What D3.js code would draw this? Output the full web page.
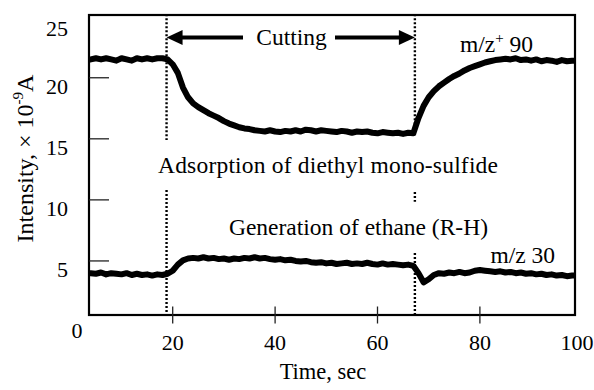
<!DOCTYPE html>
<html>
<head>
<meta charset="utf-8">
<script src="https://cdn.jsdelivr.net/npm/d3@7"></script>
<style>
  body { margin: 0; background: #fff; }
</style>
</head>
<body>
<div id="chart"></div>
<script>
// sample times (sec)
var times = [3.7, 4, 5, 6, 7, 8, 9, 10, 11, 12, 13, 14, 15, 16, 17, 18, 19, 20, 21, 22, 23, 24, 25, 26, 27, 28, 29,
  30, 31, 32, 33, 34, 35, 36, 37, 38, 39, 40, 41, 42, 43, 44, 45, 46, 47, 48, 49, 50, 51, 52, 53, 54, 55, 56,
  57, 58, 59, 60, 61, 62, 63, 64, 65, 66, 67, 68, 69, 70, 71, 72, 73, 74, 75, 76, 77, 78, 79, 80, 81, 82, 83,
  84, 85, 86, 87, 88, 89, 90, 91, 92, 93, 94, 95, 96, 97, 98, 98.5];

// m/z+ 90 (diethyl mono-sulfide), x10^-9 A
var mz90 = [21.5, 21.5, 21.6, 21.5, 21.6, 21.5, 21.4, 21.6, 21.5, 21.4, 21.6, 21.5, 21.6, 21.5, 21.6, 21.6, 21.5,
  21.1, 20.4, 19.2, 18.4, 17.9, 17.6, 17.35, 17.1, 16.9, 16.7, 16.45, 16.25, 16.1, 15.95, 15.85, 15.8, 15.7,
  15.65, 15.6, 15.7, 15.6, 15.55, 15.65, 15.6, 15.7, 15.6, 15.75, 15.7, 15.6, 15.7, 15.65, 15.6, 15.55, 15.65,
  15.6, 15.5, 15.6, 15.55, 15.6, 15.5, 15.45, 15.55, 15.5, 15.45, 15.5, 15.4, 15.5, 15.45, 16.7, 17.7, 18.4,
  18.9, 19.3, 19.6, 19.9, 20.15, 20.35, 20.6, 20.8, 20.95, 21.1, 21.25, 21.35, 21.45, 21.5, 21.55, 21.5, 21.6,
  21.45, 21.5, 21.4, 21.5, 21.35, 21.45, 21.4, 21.3, 21.45, 21.35, 21.4, 21.4];

// m/z 30 (ethane)
var mz30 = [4.0, 4.0, 3.95, 4.05, 3.9, 4.0, 3.95, 3.9, 4.0, 3.85, 3.95, 3.85, 3.9, 3.8, 3.9, 3.85, 3.95,
  4.2, 4.7, 5.05, 5.2, 5.25, 5.2, 5.3, 5.2, 5.25, 5.15, 5.2, 5.1, 5.2, 5.15, 5.25, 5.2, 5.3, 5.2, 5.25, 5.15,
  5.1, 5.15, 5.05, 5.1, 5.0, 4.95, 5.0, 4.9, 4.85, 4.9, 4.8, 4.85, 4.75, 4.8, 4.85, 4.75, 4.8, 4.75, 4.85,
  4.75, 4.7, 4.8, 4.7, 4.75, 4.7, 4.65, 4.7, 4.6, 4.0, 3.25, 3.5, 3.85, 4.0, 3.95, 4.05, 4.0, 4.1, 4.0, 4.05,
  4.2, 4.25, 4.2, 4.15, 4.1, 4.15, 4.05, 4.1, 4.0, 4.05, 3.95, 4.0, 3.9, 3.95, 3.85, 3.9, 3.8, 3.85, 3.75,
  3.8, 3.8];

var xTicks = [20, 40, 60, 80, 100];
var yTicks = [0, 5, 10, 15, 20, 25];

// start / end of cutting, with the parts of the dotted lines that are drawn
var cutStart = 18.8, cutEnd = 67.3;
var markers = [
  {t: cutStart, segs: [[14.9, 25.2], [0.5, 10.8]]},
  {t: cutEnd, segs: [[15.3, 25.2], [9.85, 10.65], [0.5, 5.65]]}
];

var width = 594, height = 390;
var frame = {left: 89, top: 15, right: 575, bottom: 315};
var FONT = "'Liberation Serif', 'DejaVu Serif', 'Times New Roman', serif";

var svg = d3.select("#chart").append("svg")
    .attr("width", width)
    .attr("height", height)
    .attr("font-family", FONT)
    .attr("font-size", 22);

var x = d3.scaleLinear().domain([0, 100]).range([70.3, 582.3]);
var y = d3.scaleLinear().domain([0, 25]).range([322, 16.7]);

function label(sel) {
  return sel.style("font-family", FONT).attr("fill", "#000");
}

// frame
svg.append("rect")
    .attr("x", frame.left).attr("y", frame.top)
    .attr("width", frame.right - frame.left)
    .attr("height", frame.bottom - frame.top)
    .attr("fill", "none")
    .attr("stroke", "#000")
    .attr("stroke-width", 2.2);

// y ticks (inward)
svg.append("g").selectAll("line")
    .data(yTicks.filter(d => d > 0 && d < 25))
    .enter().append("line")
    .attr("x1", frame.left).attr("x2", frame.left + 20)
    .attr("y1", d => y(d)).attr("y2", d => y(d))
    .attr("stroke", "#222").attr("stroke-width", 1.3);

svg.append("g").selectAll("text")
    .data(yTicks.filter(d => d > 0))
    .enter().append("text")
    .call(label)
    .attr("x", 68)
    .attr("y", d => y(d) + (d == 25 ? 19 : 16))
    .attr("text-anchor", "end")
    .text(d => d);

// origin label
svg.append("text").call(label)
    .attr("x", 77).attr("y", y(0) + 16)
    .attr("text-anchor", "middle")
    .text("0");

// x ticks (crossing)
svg.append("g").selectAll("line")
    .data(xTicks.filter(d => x(d) < frame.right))
    .enter().append("line")
    .attr("x1", d => x(d)).attr("x2", d => x(d))
    .attr("y1", frame.bottom - 8.5).attr("y2", frame.bottom + 8.5)
    .attr("stroke", "#222").attr("stroke-width", 1.3);

svg.append("g").selectAll("text")
    .data(xTicks)
    .enter().append("text")
    .call(label)
    .attr("x", d => Math.min(x(d), width - 17))
    .attr("y", 350)
    .attr("text-anchor", "middle")
    .text(d => d);

// axis titles
svg.append("text").call(label)
    .attr("x", 323).attr("y", 379)
    .attr("text-anchor", "middle")
    .attr("font-size", 22.5)
    .text("Time, sec");

var yt = svg.append("text").call(label)
    .attr("transform", "translate(33,158.5) rotate(-90)")
    .attr("text-anchor", "middle")
    .attr("font-size", 24);
yt.append("tspan").text("Intensity, \u00d7 10");
yt.append("tspan").attr("dy", -10).attr("font-size", 15).text("-9");
yt.append("tspan").attr("dy", 10).text("A");

// dotted markers
markers.forEach(function(m) {
  svg.append("g").selectAll("line")
      .data(m.segs)
      .enter().append("line")
      .attr("x1", x(m.t)).attr("x2", x(m.t))
      .attr("y1", d => Math.min(y(d[1]), frame.bottom))
      .attr("y2", d => Math.max(y(d[0]), frame.top))
      .attr("stroke", "#000")
      .attr("stroke-width", 2.4)
      .attr("stroke-dasharray", "2,2");
});

// data lines
var line = d3.line()
    .x((d, i) => x(times[i]))
    .y(d => y(d));

[mz90, mz30].forEach(function(s) {
  svg.append("path")
      .datum(s)
      .attr("d", line)
      .attr("fill", "none")
      .attr("stroke", "#000")
      .attr("stroke-width", 6)
      .attr("stroke-linejoin", "round");
});

// cutting arrows
var arrowY = 37.5;
svg.append("line")
    .attr("x1", x(cutStart) + 12).attr("x2", 243)
    .attr("y1", arrowY).attr("y2", arrowY)
    .attr("stroke", "#000").attr("stroke-width", 4);
svg.append("line")
    .attr("x1", 335).attr("x2", x(cutEnd) - 12)
    .attr("y1", arrowY).attr("y2", arrowY)
    .attr("stroke", "#000").attr("stroke-width", 4);
svg.append("path")
    .attr("d", d3.line()([[x(cutStart), arrowY], [x(cutStart) + 16, arrowY - 7.5], [x(cutStart) + 16, arrowY + 7.5]]) + "Z")
    .attr("fill", "#000");
svg.append("path")
    .attr("d", d3.line()([[x(cutEnd), arrowY], [x(cutEnd) - 16, arrowY - 7.5], [x(cutEnd) - 16, arrowY + 7.5]]) + "Z")
    .attr("fill", "#000");

var ann = 23.5;
svg.append("text").call(label)
    .attr("x", 291.5).attr("y", 45)
    .attr("text-anchor", "middle")
    .attr("font-size", ann)
    .text("Cutting");

// labels
var l90 = svg.append("text").call(label)
    .attr("x", 533).attr("y", 52)
    .attr("text-anchor", "end")
    .attr("font-size", ann);
l90.append("tspan").text("m/z");
l90.append("tspan").attr("dy", -9).attr("font-size", 15).text("+");
l90.append("tspan").attr("dy", 9).text(" 90");

svg.append("text").call(label)
    .attr("x", 555).attr("y", 263)
    .attr("text-anchor", "end")
    .attr("font-size", ann)
    .text("m/z 30");

svg.append("text").call(label)
    .attr("x", 158).attr("y", 173)
    .attr("font-size", ann)
    .attr("textLength", 340)
    .attr("lengthAdjust", "spacing")
    .text("Adsorption of diethyl mono-sulfide");

svg.append("text").call(label)
    .attr("x", 488).attr("y", 235)
    .attr("text-anchor", "end")
    .attr("font-size", ann)
    .text("Generation of ethane (R-H)");
</script>
</body>
</html>
